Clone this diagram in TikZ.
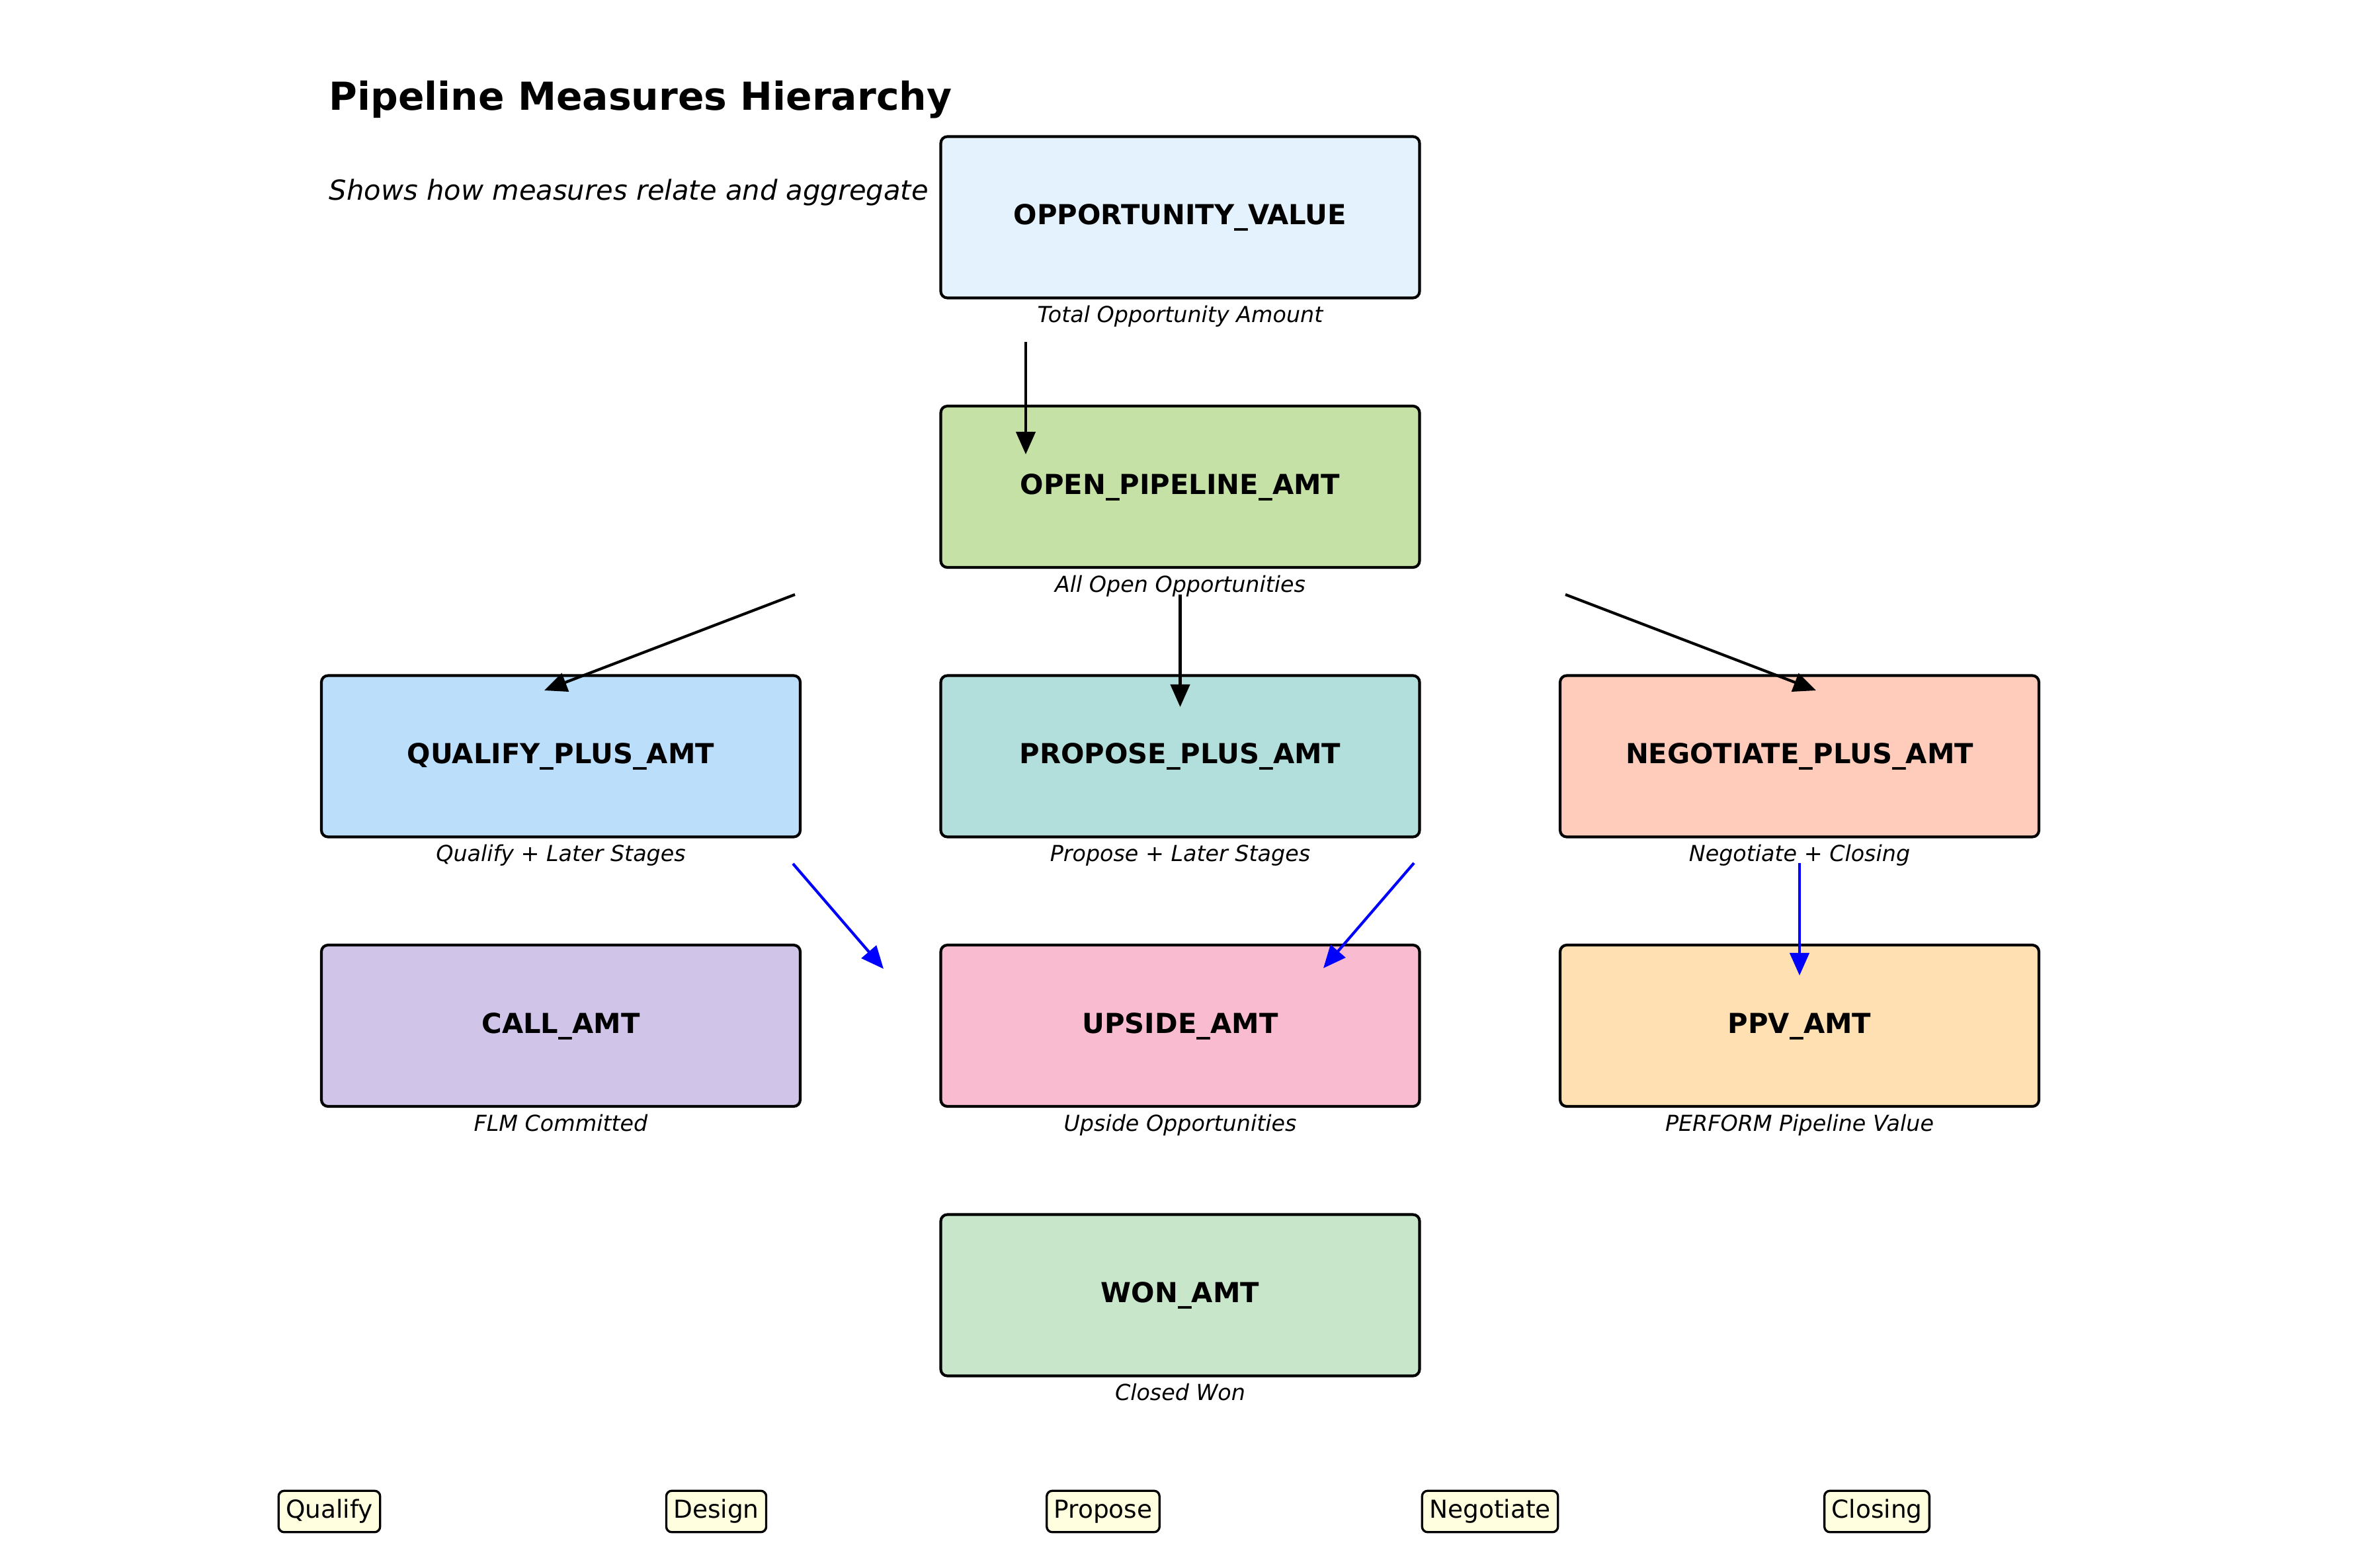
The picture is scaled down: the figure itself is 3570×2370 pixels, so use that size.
\documentclass[tikz,border=0pt]{standalone}
\usepackage{fontspec}
\setmainfont{DejaVu Sans}[ItalicFont={DejaVu Sans Oblique},BoldFont={DejaVu Sans Bold},BoldItalicFont={DejaVu Sans Bold Oblique}]
\usetikzlibrary{arrows.meta,calc}
\definecolor{cOpp}{HTML}{E3F2FD}
\definecolor{cOpen}{HTML}{C5E1A5}
\definecolor{cQual}{HTML}{BBDEFB}
\definecolor{cProp}{HTML}{B2DFDB}
\definecolor{cNeg}{HTML}{FFCCBC}
\definecolor{cCall}{HTML}{D1C4E9}
\definecolor{cUp}{HTML}{F8BBD0}
\definecolor{cPpv}{HTML}{FFE0B2}
\definecolor{cWon}{HTML}{C8E6C9}
\definecolor{stagefill}{HTML}{FFFFE0}
\begin{document}
\begin{tikzpicture}[x=0.24pt,y=-0.24pt,
  measure/.style={draw=black, line width=1pt, rounded corners=2.4pt,
    minimum width=173.76pt, minimum height=58.56pt, inner sep=0pt,
    font=\bfseries\fontsize{10}{12}\selectfont, text height=7.3pt, text depth=2pt},
  desc/.style={anchor=base, inner sep=0pt, font=\itshape\fontsize{8}{10}\selectfont},
  stage/.style={draw=black, line width=0.8pt, fill=stagefill, rounded corners=2pt,
    font=\fontsize{9}{11}\selectfont, inner xsep=2.6pt, inner ysep=3pt,
    text height=6.9pt, text depth=2.1pt},
  blk/.style={-{Triangle[length=8.2pt,width=7pt]}, line width=1pt, draw=black},
  blu/.style={-{Triangle[length=8.2pt,width=7pt]}, line width=1pt, draw=blue, fill=blue}]
\useasboundingbox (0,0) rectangle (3570,2370);

% title
\node[anchor=base west, inner sep=0pt, font=\bfseries\fontsize{14}{17}\selectfont] (title) at (497,166) {Pipeline Measures Hierarchy};
\node[anchor=base west, inner sep=0pt, font=\itshape\fontsize{10}{12}\selectfont] (subtitle) at (497,302) {Shows how measures relate and aggregate};

% measure boxes
\node[measure, fill=cOpp]  (opp)  at (1784.5,328.5)  {OPPORTUNITY\_VALUE};
\node[measure, fill=cOpen] (open) at (1784.5,736)    {OPEN\_PIPELINE\_AMT};
\node[measure, fill=cQual] (qual) at (848,1143.5)    {QUALIFY\_PLUS\_AMT};
\node[measure, fill=cProp] (prop) at (1784.5,1143.5) {PROPOSE\_PLUS\_AMT};
\node[measure, fill=cNeg]  (neg)  at (2721,1143.5)   {NEGOTIATE\_PLUS\_AMT};
\node[measure, fill=cCall] (call) at (848,1551)      {CALL\_AMT};
\node[measure, fill=cUp]   (up)   at (1784.5,1551)   {UPSIDE\_AMT};
\node[measure, fill=cPpv]  (ppv)  at (2721,1551)     {PPV\_AMT};
\node[measure, fill=cWon]  (won)  at (1784.5,1958.5) {WON\_AMT};

% descriptions
\node[desc] (doppo) at ($(opp.south)+(0,35)$)  {Total Opportunity Amount};
\node[desc] (dopen) at ($(open.south)+(0,35)$) {All Open Opportunities};
\node[desc] (dqual) at ($(qual.south)+(0,35)$) {Qualify + Later Stages};
\node[desc] (dprop) at ($(prop.south)+(0,35)$) {Propose + Later Stages};
\node[desc] (dneg)  at ($(neg.south)+(0,35)$)  {Negotiate + Closing};
\node[desc] (dcall) at ($(call.south)+(0,35)$) {FLM Committed};
\node[desc] (dup)   at ($(up.south)+(0,35)$)   {Upside Opportunities};
\node[desc] (dppv)  at ($(ppv.south)+(0,35)$)  {PERFORM Pipeline Value};
\node[desc] (dwon)  at ($(won.south)+(0,35)$)  {Closed Won};

% arrow end points
\coordinate (a1s) at (1551,517);   \coordinate (a1e) at (1551,687);
\coordinate (a2s) at (1202,899);   \coordinate (a2e) at (823,1044);
\coordinate (a3s) at (1784.5,899); \coordinate (a3e) at (1784.5,1069);
\coordinate (a4s) at (2367,899);   \coordinate (a4e) at (2746,1044);
\coordinate (b1s) at (1199,1306);  \coordinate (b1e) at (1336,1465);
\coordinate (b2s) at (2138,1305);  \coordinate (b2e) at (2001,1464);
\coordinate (b3s) at (2721,1305);  \coordinate (b3e) at (2721,1475);

\draw[blk] (a1s) -- (a1e);
\draw[blk] (a2s) -- (a2e);
\draw[blk] (a3s) -- (a3e);
\draw[blk] (a4s) -- (a4e);
\draw[blu] (b1s) -- (b1e);
\draw[blu] (b2s) -- (b2e);
\draw[blu] (b3s) -- (b3e);

% stage labels
\node[stage] (s1) at (498,2285.5)  {Qualify};
\node[stage] (s2) at (1083,2285.5) {Design};
\node[stage] (s3) at (1668,2285.5) {Propose};
\node[stage] (s4) at (2253,2285.5) {Negotiate};
\node[stage] (s5) at (2838,2285.5) {Closing};
\end{tikzpicture}
\end{document}
